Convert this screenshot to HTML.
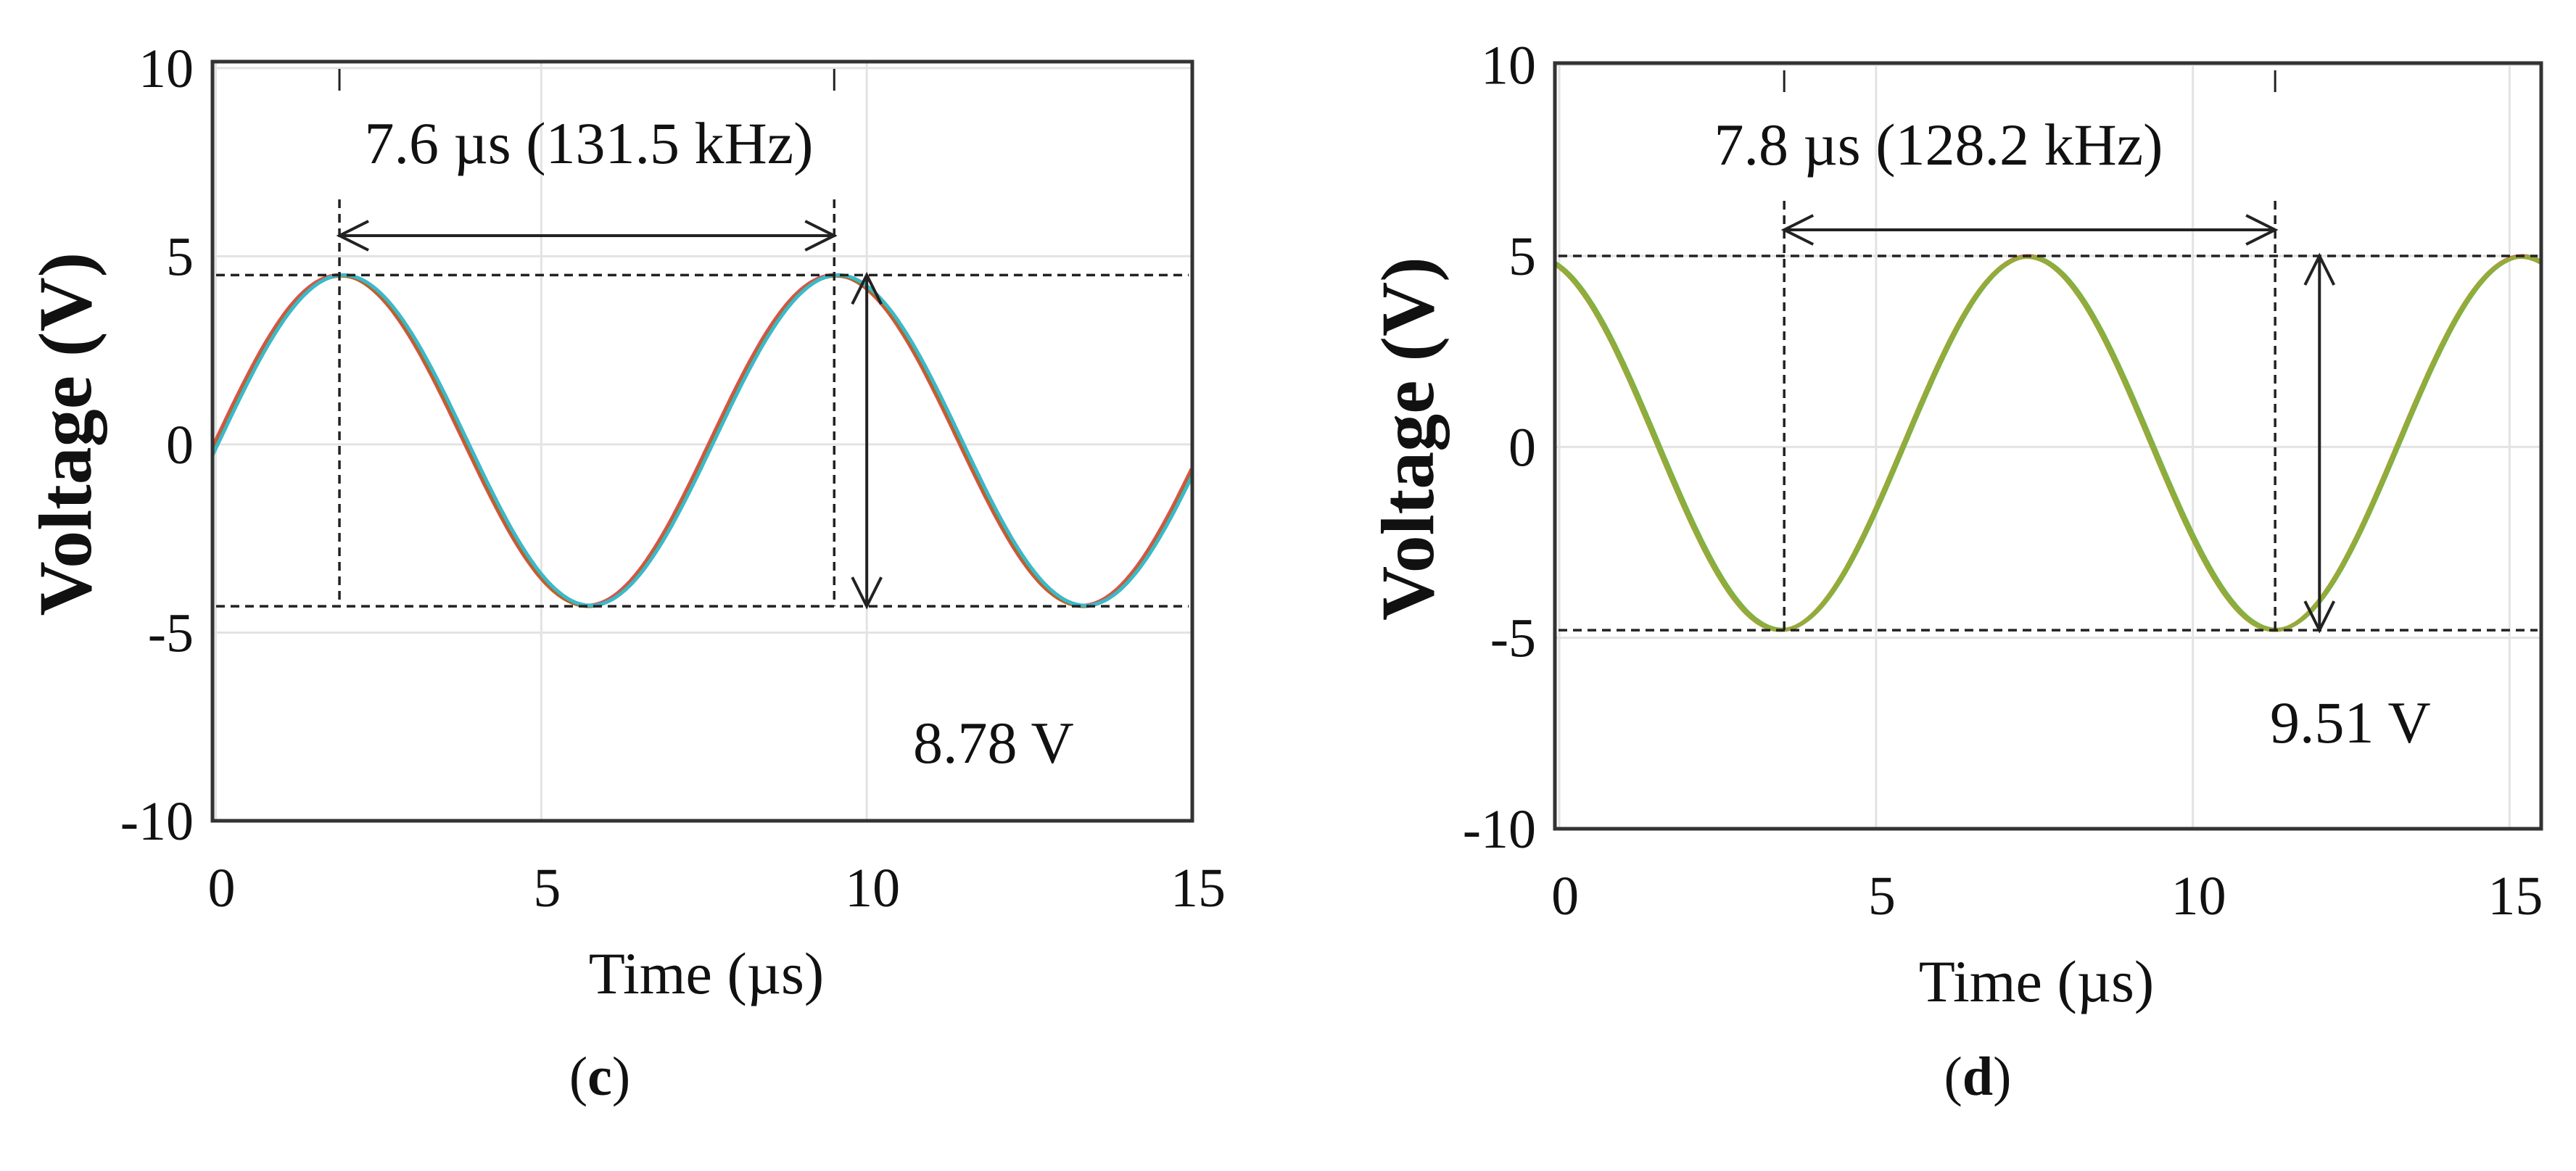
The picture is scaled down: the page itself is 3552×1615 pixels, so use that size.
<!DOCTYPE html>
<html><head><meta charset="utf-8"><style>
html,body{margin:0;padding:0;background:#fff;}
svg{display:block;font-family:"Liberation Serif",serif;}
</style></head><body>
<svg id="s" width="3552" height="1615" viewBox="0 0 3552 1615"></svg>
<script>
// ---- data ----
const xTicks = [0, 5, 10, 15];
const yTicks = [-10, -5, 0, 5, 10];
const yTickLabels = ["-10", "-5", "0", "5", "10"];
// panel c waveform measurements: peak time, period, max, min (per trace)
const cPeakTime = [1.9, 1.93, 1.96];
const cPeriod = [7.6, 7.6, 7.6];
const cMax = [4.5, 4.48, 4.5];
const cMin = [-4.28, -4.3, -4.28];
const cColors = ["#d9534f", "#b5651d", "#3cb8c8"];
const cMarkers = [1.9, 9.5];
const cArrowX = 10;
// panel d
const dPeakTime = [7.4, 7.42, 7.38];
const dPeriod = [7.8, 7.8, 7.8];
const dMax = [5.0, 4.98, 4.97];
const dMin = [-4.8, -4.78, -4.8];
const dColors = ["#d9534f", "#7cb342", "#9aa83a"];
const dMarkers = [3.55, 11.3];
const dArrowX = 12;

const NS = "http://www.w3.org/2000/svg";
const svg = document.getElementById('s');
function mk(tag, attrs, parent){const e=document.createElementNS(NS,tag);for(const k in attrs)e.setAttribute(k,attrs[k]);(parent||svg).appendChild(e);return e;}

function panel(o){
  const g = mk('g',{});
  
  
  const X = v => o.L + (v - o.x0) / (o.x1 - o.x0) * (o.R - o.L);
  const Y = v => o.B - (v - o.y0) / (o.y1 - o.y0) * (o.B - o.T);
  xTicks.forEach(t=>{ const l=mk('line',{x1:X(t),x2:X(t),y1:o.T,y2:o.B,stroke:'#e3e3e3','stroke-width':3},g);
     
    const tx=mk('text',{x:X(t)+8,y:o.B+118,'font-size':76,'text-anchor':'middle',fill:'#111'},g); tx.textContent=t;
     });
  yTicks.forEach((t,i)=>{ const l=mk('line',{x1:o.L,x2:o.R,y1:Y(t),y2:Y(t),stroke:'#e3e3e3','stroke-width':3},g);
     
    const tx=mk('text',{x:o.L-26,y:Y(t)+26,'font-size':76,'text-anchor':'end',fill:'#111'},g); tx.textContent=yTickLabels[i];
     });
  const defs = mk('defs',{},g); const cp=mk('clipPath',{id:o.name+'-clip'},defs); mk('rect',{x:o.L,y:o.T,width:o.R-o.L,height:o.B-o.T},cp);
  for(let k=0;k<o.peak.length;k++){
    const A=(o.max[k]-o.min[k])/2, off=(o.max[k]+o.min[k])/2;
    let d='';
    for(let t=o.x0;t<=o.x1+0.001;t+=0.02){ const v=off+A*Math.cos(2*Math.PI*(t-o.peak[k])/o.period[k]); d+=(d?'L':'M')+X(t).toFixed(1)+' '+Y(v).toFixed(1); }
    const p=mk('path',{d:d,fill:'none',stroke:o.colors[k],'stroke-width':5,'clip-path':'url(#'+o.name+'-clip)'},g);
     
  }
  const vmax=Math.max(...o.max), vmin=Math.min(...o.min);
  [vmax,vmin].forEach(v=>{const l=mk('line',{x1:o.L+5,x2:o.R-5,y1:Y(v),y2:Y(v),stroke:'#222','stroke-width':3.5,'stroke-dasharray':'12 8'},g);
     });
  o.markers.forEach(m=>{const l=mk('line',{x1:X(m),x2:X(m),y1:o.T+190,y2:Y(vmin),stroke:'#222','stroke-width':3.5,'stroke-dasharray':'12 8'},g);
     
    const s=mk('line',{x1:X(m),x2:X(m),y1:o.T+10,y2:o.T+40,stroke:'#222','stroke-width':3},g);
     });
  const ay=o.T+o.arrowDy, xa=X(o.markers[0]), xb=X(o.markers[1]);
  const ha=mk('path',{d:`M${xa} ${ay}H${xb}M${xa+40} ${ay-20}L${xa} ${ay}L${xa+40} ${ay+20}M${xb-40} ${ay-20}L${xb} ${ay}L${xb-40} ${ay+20}`,stroke:'#222','stroke-width':4,fill:'none'},g);
   
  const vx=X(o.arrowX), ya=Y(vmax), yb=Y(vmin);
  const va=mk('path',{d:`M${vx} ${ya}V${yb}M${vx-20} ${ya+40}L${vx} ${ya}L${vx+20} ${ya+40}M${vx-20} ${yb-40}L${vx} ${yb}L${vx+20} ${yb-40}`,stroke:'#222','stroke-width':4,fill:'none'},g);
   
  const fr=mk('rect',{x:o.L,y:o.T,width:o.R-o.L,height:o.B-o.T,fill:'none',stroke:'#333','stroke-width':5},g);
   
  const t1=mk('text',{x:o.titleX,y:o.T+140,'font-size':82,'text-anchor':'middle',fill:'#111'},g); t1.textContent=o.title;
   
  const t2=mk('text',{x:o.ppX,y:o.ppY,'font-size':82,fill:'#111'},g); t2.textContent=o.pp;
   
  const xt=mk('text',{x:o.xtX,y:o.B+238,'font-size':82,'text-anchor':'middle',fill:'#111'},g); xt.textContent='Time (µs)';
   
  const yt=mk('text',{x:0,y:0,'font-size':104,'font-weight':'bold','text-anchor':'middle',fill:'#111',transform:`translate(${o.L-168},${(o.T+o.B)/2 - 10}) rotate(-90)`},g); yt.textContent='Voltage (V)';
   
  const cap=mk('text',{x:o.capX,y:1510,'font-size':76,'text-anchor':'middle',fill:'#111'},g);
  cap.innerHTML='(<tspan font-weight="bold">'+o.cap+'</tspan>)';
   
}
panel({name:'panel-c',L:293,R:1644,T:85,B:1132,x0:-0.05,x1:15,y0:-10,y1:10.17,
  peak:cPeakTime,period:cPeriod,max:cMax,min:cMin,colors:cColors,markers:cMarkers,arrowX:cArrowX,arrowDy:240,
  title:'7.6 µs (131.5 kHz)',titleX:812,pp:'8.78 V',ppX:1259,ppY:1052,cap:'c',capX:827,xtX:974});
panel({name:'panel-d',L:2144,R:3504,T:87,B:1143,x0:-0.07,x1:15.5,y0:-10,y1:10.05,
  peak:dPeakTime,period:dPeriod,max:dMax,min:dMin,colors:dColors,markers:dMarkers,arrowX:dArrowX,arrowDy:230,
  title:'7.8 µs (128.2 kHz)',titleX:2673,pp:'9.51 V',ppX:3130,ppY:1024,cap:'d',capX:2727,xtX:2808});
</script>
</body></html>
